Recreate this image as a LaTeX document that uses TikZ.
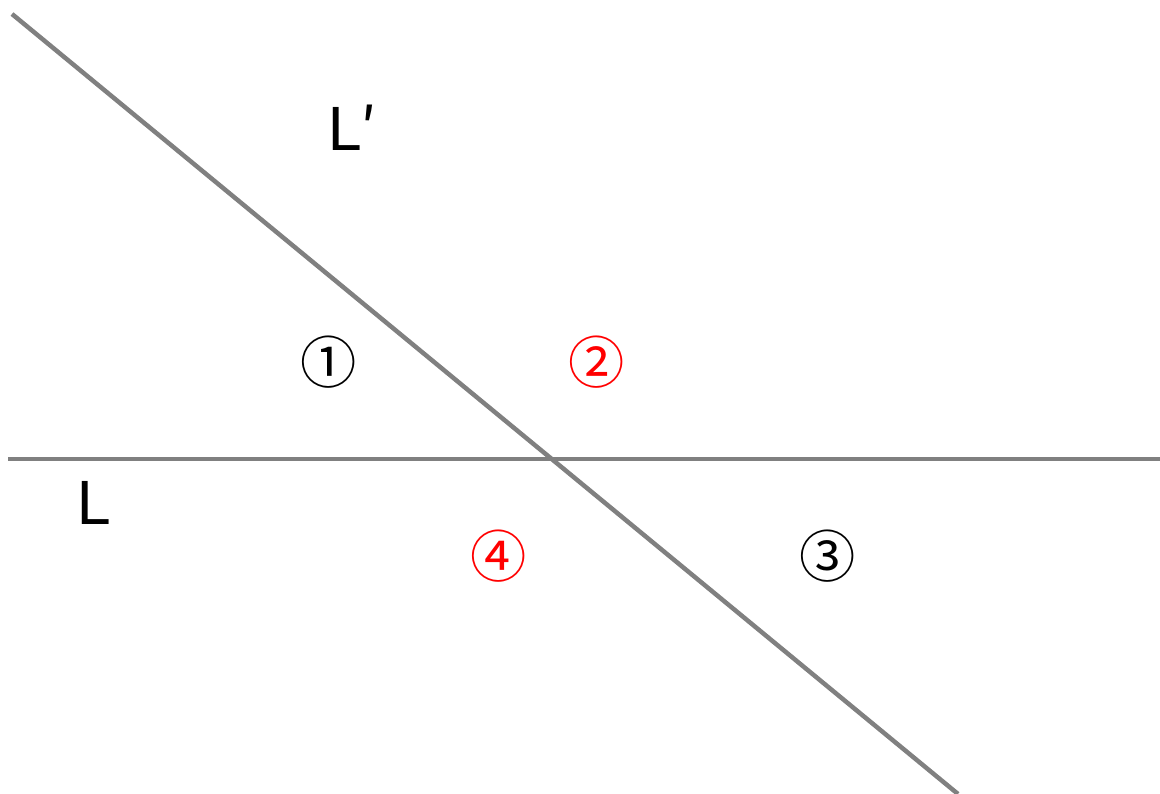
\documentclass[tikz,border=0pt]{standalone}
\usepackage{fontspec}
\setmainfont{DejaVu Sans}
\newfontfamily\cjkfont{Noto Sans CJK JP}

\begin{document}
\begin{tikzpicture}[x=0.025cm, y=-0.025cm,
    line/.style={draw=gray, line width=3.2pt},
    lbl/.style={inner sep=0pt, font=\fontsize{42}{50}\selectfont},
    num/.style={inner sep=0pt, font=\cjkfont\fontsize{40}{46}\selectfont}]
  \useasboundingbox (0,0) rectangle (1160,794);
  % the two lines
  \coordinate (La) at (8,459);
  \coordinate (Lb) at (1160,459);
  \coordinate (Pa) at (12,14);
  \coordinate (Pb) at (958,794);
  \draw[line] (La) -- (Lb);
  \draw[line] (Pa) -- (Pb);
  % labels
  \node[lbl] (lL) at (93,503) {L};
  \node[lbl] (lLp) at (352,128) {L{\cjkfont ′}};
  \node[num] (n1) at (329,362) {①};
  \node[num, red] (n2) at (597,362) {②};
  \node[num] (n3) at (828,556) {③};
  \node[num, red] (n4) at (499,556) {④};
\end{tikzpicture}
\end{document}
